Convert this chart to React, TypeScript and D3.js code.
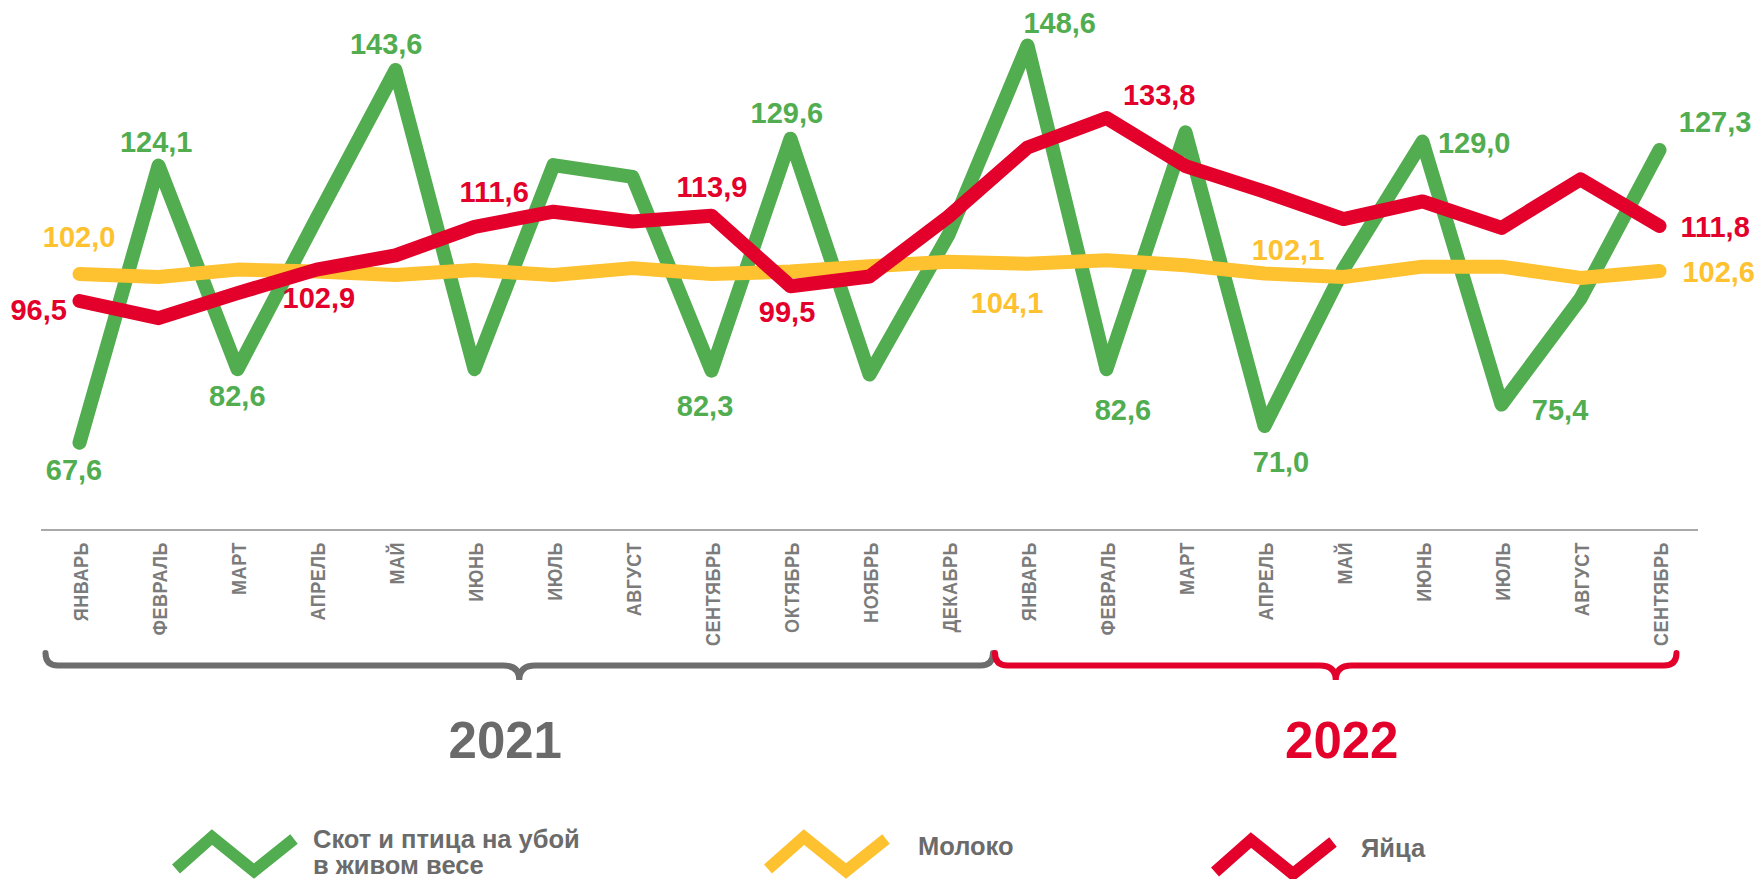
import React from 'react';
import * as d3 from 'd3';

// ---------------- DATA ----------------
const months2021 = ['ЯНВАРЬ', 'ФЕВРАЛЬ', 'МАРТ', 'АПРЕЛЬ', 'МАЙ', 'ИЮНЬ', 'ИЮЛЬ', 'АВГУСТ', 'СЕНТЯБРЬ', 'ОКТЯБРЬ', 'НОЯБРЬ', 'ДЕКАБРЬ'];
const months2022 = ['ЯНВАРЬ', 'ФЕВРАЛЬ', 'МАРТ', 'АПРЕЛЬ', 'МАЙ', 'ИЮНЬ', 'ИЮЛЬ', 'АВГУСТ', 'СЕНТЯБРЬ'];
const years = ['2021', '2022'];

// Скот и птица на убой в живом весе
const livestock = [67.6, 124.1, 82.6, 113.3, 143.6, 82.6, 124.2, 121.8, 82.3, 129.6, 81.5, 110.0,
  148.6, 82.6, 130.9, 71.0, 103.0, 129.0, 75.4, 97.0, 127.3];
// Молоко
const milk = [102.0, 101.4, 102.9, 102.5, 101.8, 102.8, 101.8, 103.2, 102.0, 102.5, 103.6, 104.5,
  104.1, 104.8, 103.8, 102.1, 101.4, 103.5, 103.5, 101.2, 102.6];
// Яйца
const eggs = [96.5, 93.0, 98.1, 102.9, 105.8, 111.6, 114.7, 112.7, 113.9, 99.5, 101.5, 113.7,
  127.8, 133.8, 124.0, 118.8, 113.2, 116.8, 111.4, 121.3, 111.8];

const legendLivestock = ['Скот и птица на убой', 'в живом весе'];
const legendMilk = ['Молоко'];
const legendEggs = ['Яйца'];

// indices of points that carry a value label
const labelledLivestock = [0, 1, 2, 4, 8, 9, 12, 13, 15, 17, 18, 20];
const labelledMilk = [0, 12, 15, 20];
const labelledEggs = [0, 3, 5, 8, 9, 13, 20];

// ---------------- STYLE / LAYOUT ----------------
const W = 1759;
const H = 879;
const GREEN = '#51ad4f';
const YELLOW = '#fec12f';
const RED = '#e3002b';
const GREY_TEXT = '#6b6b6b';
const MONTH_GREY = '#7b7b7b';
const FONT = '"Liberation Sans", Arial, sans-serif';

// label offsets (dx, dy from point to label centre/baseline)
const offLivestock: Record<number, [number, number]> = {
  0: [-5.5, 37.3], 1: [-2.3, -13.9], 2: [-0.2, 36.9], 4: [-9.3, -16], 8: [-6.4, 45.4], 9: [-3.7, -15.4],
  12: [32.2, -12.2], 13: [16.4, 50.9], 15: [16.5, 45.7], 17: [51.7, 11.7], 18: [58.6, 15.6], 20: [55.6, -18.2],
};
const offEggs: Record<number, [number, number]> = {
  0: [-40.8, 19], 3: [2.4, 38.7], 5: [19.6, -24.6], 8: [0.4, -18.9], 9: [-3.4, 35.4], 13: [52.7, -13.1], 20: [55.6, 10.8],
};
const offMilk: Record<number, [number, number]> = {
  0: [-0.4, -27.3], 12: [-20.5, 49.6], 15: [23.5, -13.5], 20: [59.2, 10.6],
};

const fmt = (v: number) => d3.format('.1f')(v).replace('.', ',');

export default function App() {
  const keys = [
    ...months2021.map((m, i) => `${years[0]}-${i}`),
    ...months2022.map((m, i) => `${years[1]}-${i}`),
  ];
  const monthNames = [...months2021, ...months2022];

  const xBand = d3.scaleBand<string>().domain(keys).range([40, 1699]);
  const bw = xBand.bandwidth();
  const x = (i: number) => (xBand(keys[i]) as number) + bw / 2;
  const y = d3.scaleLinear().domain([60, 150]).range([480.0, 38.6]);

  const line = d3.line<number>().x((_, i) => x(i)).y((d) => y(d));

  const series = [
    { data: livestock, color: GREEN, labelled: labelledLivestock, off: offLivestock },
    { data: milk, color: YELLOW, labelled: labelledMilk, off: offMilk },
    { data: eggs, color: RED, labelled: labelledEggs, off: offEggs },
  ];

  const axisY = 530;

  // braces
  const boundary = (x(months2021.length - 1) + x(months2021.length)) / 2;
  const braces = [
    { x0: x(0) - 34, x1: boundary + 5, color: '#6d6d6d', label: years[0], labelColor: '#6a6a6a', ldx: -14 },
    { x0: boundary + 7, x1: x(keys.length - 1) + 17, color: RED, label: years[1], labelColor: RED, ldx: 6 },
  ];
  const braceTop = 653;
  const braceH = 665.5;
  const braceTip = 680;
  const bracePath = (x0: number, x1: number) => {
    const r = 12.5;
    const m = (x0 + x1) / 2;
    const r2 = 16;
    return `M${x0},${braceTop} Q${x0},${braceH} ${x0 + r},${braceH} L${m - r2},${braceH} Q${m},${braceH} ${m},${braceTip} ` +
      `Q${m},${braceH} ${m + r2},${braceH} L${x1 - r},${braceH} Q${x1},${braceH} ${x1},${braceTop}`;
  };

  // legend icon shape (relative)
  const icon = [[0, 32], [36, 0], [78, 34], [118, 2]] as [number, number][];
  const iconLine = d3.line<[number, number]>().x((d) => d[0]).y((d) => d[1]);
  const legend = [
    { color: GREEN, lines: legendLivestock, ix: 176, iy: 837, tx: 313, ty: 848 },
    { color: YELLOW, lines: legendMilk, ix: 768, iy: 837, tx: 918, ty: 855 },
    { color: RED, lines: legendEggs, ix: 1215, iy: 840, tx: 1361, ty: 857 },
  ];

  return (
    <svg width={W} height={H} style={{ position: 'absolute', left: 0, top: 0, display: 'block', background: '#fff' }}
      fontFamily={FONT}>
      <rect x={0} y={0} width={W} height={H} fill="#fff" />
      {/* axis line */}
      <line x1={41} x2={1698} y1={axisY} y2={axisY} stroke="#a9a9a9" strokeWidth={2} />

      {/* month labels */}
      {monthNames.map((m, i) => (
        <text key={keys[i]} transform={`translate(${x(i) + 8.5},542) rotate(-90) scale(0.86,1)`}
          textAnchor="end" fontSize={21} fontWeight="bold" fill={MONTH_GREY} letterSpacing={0.6}>
          {m}
        </text>
      ))}

      {/* lines */}
      {series.map((s, k) => (
        <path key={k} d={line(s.data) as string} fill="none" stroke={s.color} strokeWidth={14}
          strokeLinejoin="round" strokeLinecap="round" />
      ))}

      {/* value labels */}
      {series.map((s, k) =>
        s.labelled.map((i) => (
          <text key={`${k}-${i}`} x={x(i) + s.off[i][0]} y={y(s.data[i]) + s.off[i][1]} textAnchor="middle"
            fontSize={29} fontWeight="bold" fill={s.color}>
            {fmt(s.data[i])}
          </text>
        )),
      )}

      {/* braces and years */}
      {braces.map((b, k) => (
        <g key={k}>
          <path d={bracePath(b.x0, b.x1)} fill="none" stroke={b.color} strokeWidth={6} strokeLinecap="round" />
          <text x={(b.x0 + b.x1) / 2 + b.ldx} y={758} textAnchor="middle" fontSize={51} fontWeight="bold"
            fill={b.labelColor}>{b.label}</text>
        </g>
      ))}

      {/* legend */}
      {legend.map((l, k) => (
        <g key={k}>
          <path d={iconLine(icon.map(([a, b]) => [a + l.ix, b + l.iy])) as string} fill="none" stroke={l.color}
            strokeWidth={12} strokeLinejoin="miter" strokeLinecap="butt" />
          {l.lines.map((t, j) => (
            <text key={j} x={l.tx} y={l.ty + j * 26} fontSize={25.5} fontWeight="bold" fill={GREY_TEXT}>{t}</text>
          ))}
        </g>
      ))}
    </svg>
  );
}
